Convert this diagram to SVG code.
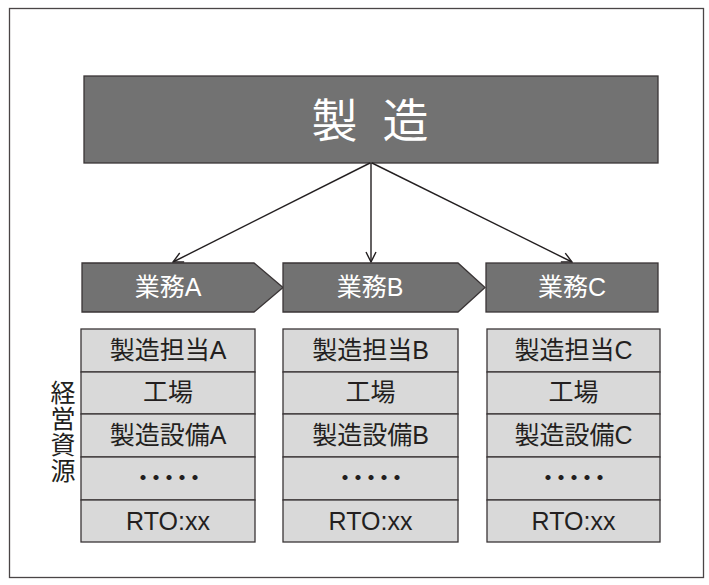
<svg xmlns="http://www.w3.org/2000/svg" width="709" height="585" viewBox="0 0 709 585">
<defs>
<style>
.t{font-family:"Liberation Sans","Noto Sans CJK JP",sans-serif;text-anchor:middle}
.dark{fill:#727272;stroke:#3a3536;stroke-width:1.3}
.cell{fill:#d9d9d9;stroke:#3a3536;stroke-width:1.3}
.wt{fill:#ffffff}
.bt{fill:#231f20;font-size:25px}
.dots{font-family:"Noto Sans CJK JP",sans-serif;fill:#231f20;font-size:20px;font-weight:bold;text-anchor:middle}
.conn{stroke:#231f20;stroke-width:1.4;fill:none;marker-end:url(#arr)}
</style>
<marker id="arr" viewBox="0 0 12 12" refX="11" refY="6" markerWidth="12" markerHeight="12" markerUnits="userSpaceOnUse" orient="auto">
<path d="M1,1 L11,6 L1,11" fill="none" stroke="#231f20" stroke-width="1.4"/>
</marker>
</defs>
<rect x="9.5" y="8.5" width="694" height="569" fill="#ffffff" stroke="#4a4546" stroke-width="1.3"/>
<g id="seizo">
<rect class="dark" x="84" y="76" width="574" height="87"/>
<text class="t wt" x="370" y="137" font-size="46" word-spacing="12">製 造</text>
</g>
<g id="connectors">
<line class="conn" x1="370" y1="163" x2="173" y2="262"/>
<line class="conn" x1="371" y1="163" x2="371" y2="262"/>
<line class="conn" x1="372" y1="163" x2="572" y2="262"/>
</g>
<g id="gyomuA">
<polygon class="dark" points="82,263 254,263 283,287.5 254,312 82,312"/>
<text class="t wt" x="168" y="296" font-size="25">業務A</text>
</g>
<g id="gyomuB">
<polygon class="dark" points="283,263 458,263 485,287.5 458,312 283,312"/>
<text class="t wt" x="370" y="296" font-size="25">業務B</text>
</g>
<g id="gyomuC">
<rect class="dark" x="486" y="263" width="172" height="49"/>
<text class="t wt" x="572" y="296" font-size="25">業務C</text>
</g>
<g id="keiei-shigen">
<text class="t bt" x="63" y="402" font-size="26"><tspan x="63">経</tspan><tspan x="63" dy="26">営</tspan><tspan x="63" dy="26">資</tspan><tspan x="63" dy="26">源</tspan></text>
</g>
<g id="tableA">
<rect class="cell" x="81" y="329" width="174" height="43"/>
<rect class="cell" x="81" y="372" width="174" height="42"/>
<rect class="cell" x="81" y="414" width="174" height="43"/>
<rect class="cell" x="81" y="457" width="174" height="43"/>
<rect class="cell" x="81" y="500" width="174" height="42"/>
<text class="t bt" x="168" y="359">製造担当A</text>
<text class="t bt" x="168" y="401">工場</text>
<text class="t bt" x="168" y="444">製造設備A</text>
<text class="dots" x="143 156 169 182 195" y="485">・・・・・</text>
<text class="t bt" x="168" y="530">RTO:xx</text>
</g>
<g id="tableB">
<rect class="cell" x="283" y="329" width="175" height="43"/>
<rect class="cell" x="283" y="372" width="175" height="42"/>
<rect class="cell" x="283" y="414" width="175" height="43"/>
<rect class="cell" x="283" y="457" width="175" height="43"/>
<rect class="cell" x="283" y="500" width="175" height="42"/>
<text class="t bt" x="370.5" y="359">製造担当B</text>
<text class="t bt" x="370.5" y="401">工場</text>
<text class="t bt" x="370.5" y="444">製造設備B</text>
<text class="dots" x="345 358 371 384 397" y="485">・・・・・</text>
<text class="t bt" x="370.5" y="530">RTO:xx</text>
</g>
<g id="tableC">
<rect class="cell" x="487" y="329" width="173" height="43"/>
<rect class="cell" x="487" y="372" width="173" height="42"/>
<rect class="cell" x="487" y="414" width="173" height="43"/>
<rect class="cell" x="487" y="457" width="173" height="43"/>
<rect class="cell" x="487" y="500" width="173" height="42"/>
<text class="t bt" x="573.5" y="359">製造担当C</text>
<text class="t bt" x="573.5" y="401">工場</text>
<text class="t bt" x="573.5" y="444">製造設備C</text>
<text class="dots" x="548 561 574 587 600" y="485">・・・・・</text>
<text class="t bt" x="573.5" y="530">RTO:xx</text>
</g>
</svg>
